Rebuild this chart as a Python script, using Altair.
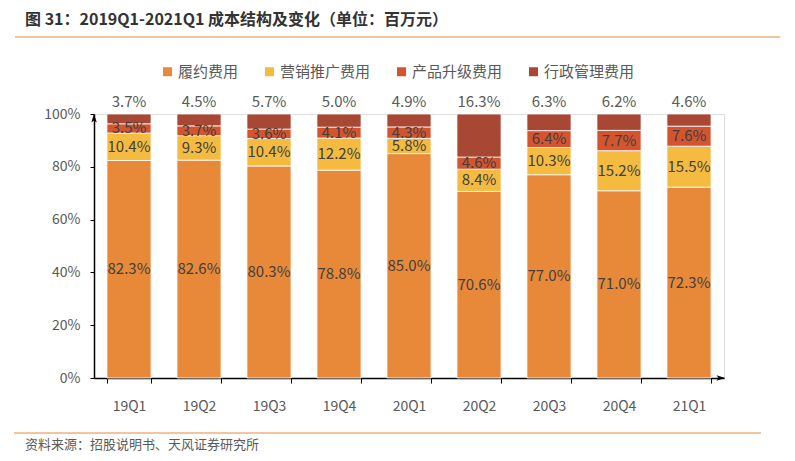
import altair as alt
import pandas as pd

quarters = ["19Q1", "19Q2", "19Q3", "19Q4", "20Q1", "20Q2", "20Q3", "20Q4", "21Q1"]
series = ["履约费用", "营销推广费用", "产品升级费用", "行政管理费用"]
fulfil = [82.3, 82.6, 80.3, 78.8, 85.0, 70.6, 77.0, 71.0, 72.3]
marketing = [10.4, 9.3, 10.4, 12.2, 5.8, 8.4, 10.3, 15.2, 15.5]
product = [3.5, 3.7, 3.6, 4.1, 4.3, 4.6, 6.4, 7.7, 7.6]
admin = [3.7, 4.5, 5.7, 5.0, 4.9, 16.3, 6.3, 6.2, 4.6]
colors = ["#E8893A", "#F5BA40", "#D4542F", "#A84733"]

FONT = "Noto Sans CJK SC"

rows = []
for i, q in enumerate(quarters):
    vals = [fulfil[i], marketing[i], product[i], admin[i]]
    total = sum(vals)
    acc = 0.0
    for s, v in zip(series, vals):
        y0 = acc / total * 100
        acc += v
        y1 = acc / total * 100
        rows.append({"q": q, "s": s, "v": v, "y0": y0, "y1": y1,
                     "mid": (y0 + y1) / 2, "label": f"{v:.1f}%"})
df = pd.DataFrame(rows)

xenc = alt.X("q:N", sort=quarters, title=None,
             scale=alt.Scale(paddingInner=0.37, paddingOuter=0.185),
             axis=alt.Axis(labelAngle=0, labelFontSize=14, labelColor="#595959",
                           labelFont=FONT, labelPadding=16, domainColor="#000000",
                           domainWidth=1.5, tickColor="#000000", tickSize=5,
                           tickBand="extent", grid=False))
yscale = alt.Scale(domain=[0, 100], nice=False)

bars = alt.Chart(df).mark_bar(stroke="#ffffff", strokeWidth=0.8).encode(
    x=xenc,
    y=alt.Y("y0:Q", scale=yscale, title=None,
            axis=alt.Axis(values=[0, 20, 40, 60, 80, 100], labelExpr="datum.value + '%'",
                          labelFontSize=14, labelColor="#595959", labelFont=FONT,
                          labelPadding=10, domainColor="#000000", domainWidth=1.5,
                          tickColor="#000000", tickSize=4, grid=False)),
    y2="y1:Q",
    color=alt.Color("s:N", scale=alt.Scale(domain=series, range=colors),
                    legend=alt.Legend(orient="none", legendX=66, legendY=-50,
                                      direction="horizontal", title=None,
                                      symbolType="square", symbolSize=81,
                                      symbolStrokeWidth=0, labelFontSize=15,
                                      labelFont=FONT, labelColor="#595959",
                                      labelOffset=3, columnPadding=23, padding=0)),
)

inner = alt.Chart(df[df["s"] != "行政管理费用"]).mark_text(
    fontSize=15, font=FONT, color="#404040", baseline="middle").encode(
    x=alt.X("q:N", sort=quarters), y=alt.Y("mid:Q", scale=yscale), text="label:N")

top = alt.Chart(df[df["s"] == "行政管理费用"]).mark_text(
    fontSize=15, font=FONT, color="#595959", baseline="bottom", dy=-4).encode(
    x=alt.X("q:N", sort=quarters), y=alt.Y("y1:Q", scale=yscale), text="label:N")

arrow_df = pd.DataFrame({"a": [100], "b": [0]})
yarrow = alt.Chart(arrow_df).mark_point(
    shape="M0,-1L0.55,0.7L0,0.3L-0.55,0.7Z", filled=True, color="#000000",
    opacity=1, size=100, yOffset=5).encode(x=alt.value(0), y=alt.Y("a:Q", scale=yscale))
xarrow = alt.Chart(arrow_df).mark_point(
    shape="M1,0L-0.7,-0.55L-0.3,0L-0.7,0.55Z", filled=True, color="#000000",
    opacity=1, size=100).encode(x=alt.value(626), y=alt.Y("b:Q", scale=yscale))

deco = pd.DataFrame({"t": ["图 31：2019Q1-2021Q1 成本结构及变化（单位：百万元）"]})
title = alt.Chart(deco).mark_text(align="left", baseline="middle", fontSize=16,
                                  fontWeight="bold", font=FONT, color="#333333").encode(
    x=alt.value(-69), y=alt.value(-94), text="t:N")
foot = alt.Chart(pd.DataFrame({"t": ["资料来源：招股说明书、天风证券研究所"]})).mark_text(
    align="left", baseline="middle", fontSize=13, font=FONT, color="#595959").encode(
    x=alt.value(-69), y=alt.value(331), text="t:N")
rule_top = alt.Chart(deco).mark_rule(color="#E8893A", strokeWidth=1).encode(
    x=alt.value(-79), x2=alt.value(686), y=alt.value(-77))
rule_bot = alt.Chart(deco).mark_rule(color="#E8893A", strokeWidth=1).encode(
    x=alt.value(-80), x2=alt.value(667), y=alt.value(319))

chart = alt.layer(bars, inner, top, yarrow, xarrow, title, foot, rule_top, rule_bot).properties(
    width=630, height=264, autosize="none",
    padding={"left": 86, "top": 106, "right": 60, "bottom": 79},
).configure_view(stroke=None).configure(background="#ffffff")

chart.save("out.html", embed_options={"renderer": "svg", "actions": False})
